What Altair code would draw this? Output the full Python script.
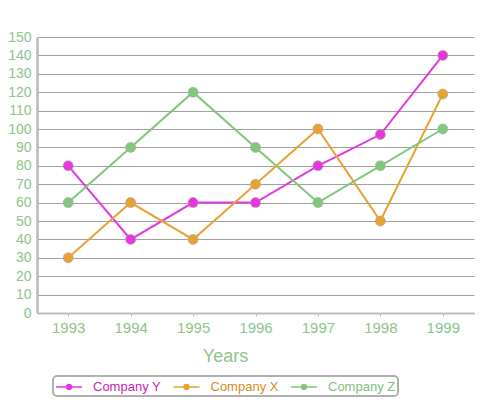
import altair as alt
import pandas as pd

years = ["1993", "1994", "1995", "1996", "1997", "1998", "1999"]
company_y = [80, 40, 60, 60, 80, 97, 140]
company_x = [30, 60, 40, 70, 100, 50, 119]
company_z = [60, 90, 120, 90, 60, 80, 100]
series = ["Company Y", "Company X", "Company Z"]
colors = ["#e536df", "#e9a232", "#7fc97a"]
label_colors = ["#c41fb8", "#d68b22", "#80bf7c"]

rows = []
for name, vals in zip(series, [company_y, company_x, company_z]):
    for yr, v in zip(years, vals):
        rows.append({"Year": yr, "Value": v, "Company": name})
df = pd.DataFrame(rows)

label_fill = (
    "datum.value == 'Company Y' ? '%s' : datum.value == 'Company X' ? '%s' : '%s'"
    % tuple(label_colors)
)

color = alt.Color(
    "Company:N",
    scale=alt.Scale(domain=series, range=colors),
    sort=series,
    legend=alt.Legend(
        title=None,
        orient="none",
        legendX=16,
        legendY=339,
        direction="horizontal",
        symbolType="M-1,0L2.25,0M0.925,0A0.3,0.3,0,1,1,0.325,0A0.3,0.3,0,1,1,0.925,0Z",
        symbolSize=256,
        symbolStrokeWidth=1.5,
        labelFontSize=13,
        labelFont="Liberation Sans",
        labelColor={"expr": label_fill},
        labelOffset=20,
        columnPadding=9.5,
        padding=2,
        offset=0,
        strokeColor="#b0b0b0",
        cornerRadius=4,
        labelLimit=200,
    ),
)

base = alt.Chart(df).encode(
    x=alt.X(
        "Year:O",
        sort=years,
        scale=alt.Scale(paddingInner=1, paddingOuter=0.5),
        axis=alt.Axis(
            title="Years",
            labelAngle=0,
            labelFontSize=15,
            labelColor="#8cc589",
            labelPadding=4,
            titleFontSize=18,
            titleFontWeight="normal",
            titleColor="#8cc589",
            titlePadding=12,
            titleX=188,
            titleAlign="center",
            tickSize=3,
            tickColor="#bbbbbb",
            domainColor="#bbbbbb",
            domainWidth=2,
            grid=False,
        ),
    ),
    y=alt.Y(
        "Value:Q",
        scale=alt.Scale(domain=[0, 150]),
        axis=alt.Axis(
            title=None,
            values=list(range(0, 151, 10)),
            labelFontSize=14,
            labelColor="#8cc589",
            labelPadding=6,
            ticks=False,
            domainColor="#bbbbbb",
            domainWidth=2.5,
            gridColor="#a0a0a0",
            gridWidth=1,
        ),
    ),
    color=color,
)

lines = base.mark_line(strokeWidth=2)
points = base.mark_point(filled=True, size=100, opacity=1, stroke="#b0a0a0", strokeWidth=0.6).encode(
    color=alt.Color("Company:N", scale=alt.Scale(domain=series, range=colors), legend=None),
    fill=alt.Fill("Company:N", scale=alt.Scale(domain=series, range=colors), legend=None),
)

chart = (
    alt.layer(lines, points)
    .properties(
        width=437,
        height=276,
        autosize=alt.AutoSizeParams(type="none"),
        padding={"left": 29, "top": 29, "right": 7, "bottom": 90},
    )
    .configure_view(stroke=None)
    .configure_axis(labelFont="Liberation Sans", titleFont="Liberation Sans")
    .configure_legend(strokeWidth=2)
)

chart.save("out.html", embed_options={"renderer": "svg", "actions": False})
